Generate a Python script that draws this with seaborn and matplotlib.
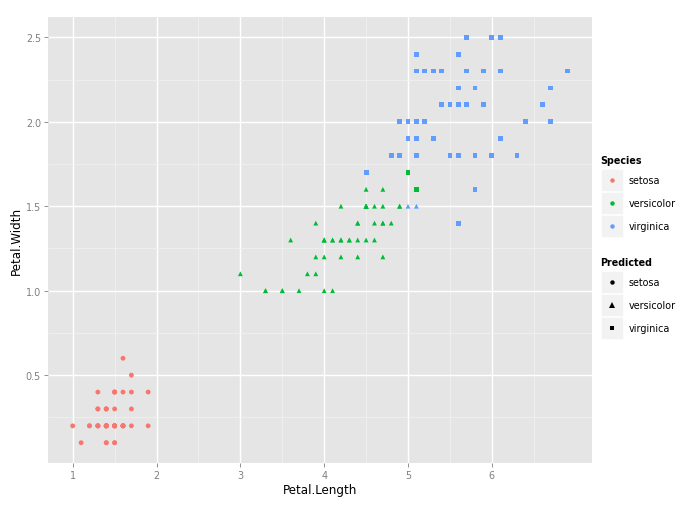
import numpy as np
import pandas as pd
import matplotlib
matplotlib.use("Agg")
import matplotlib.pyplot as plt
from matplotlib.lines import Line2D
from matplotlib.patches import Rectangle
import seaborn as sns

petal_length = [
    1.4, 1.4, 1.3, 1.5, 1.4, 1.7, 1.4, 1.5, 1.4, 1.5, 1.5, 1.6, 1.4, 1.1, 1.2, 1.5, 1.3, 1.4, 1.7, 1.5,
    1.7, 1.5, 1.0, 1.7, 1.9, 1.6, 1.6, 1.5, 1.4, 1.6, 1.6, 1.5, 1.5, 1.4, 1.5, 1.2, 1.3, 1.4, 1.3, 1.5,
    1.3, 1.3, 1.3, 1.6, 1.9, 1.4, 1.6, 1.4, 1.5, 1.4,
    4.7, 4.5, 4.9, 4.0, 4.6, 4.5, 4.7, 3.3, 4.6, 3.9, 3.5, 4.2, 4.0, 4.7, 3.6, 4.4, 4.5, 4.1, 4.5, 3.9,
    4.8, 4.0, 4.9, 4.7, 4.3, 4.4, 4.8, 5.0, 4.5, 3.5, 3.8, 3.7, 3.9, 5.1, 4.5, 4.5, 4.7, 4.4, 4.1, 4.0,
    4.4, 4.6, 4.0, 3.3, 4.2, 4.2, 4.2, 4.3, 3.0, 4.1,
    6.0, 5.1, 5.9, 5.6, 5.8, 6.6, 4.5, 6.3, 5.8, 6.1, 5.1, 5.3, 5.5, 5.0, 5.1, 5.3, 5.5, 6.7, 6.9, 5.0,
    5.7, 4.9, 6.7, 4.9, 5.7, 6.0, 4.8, 4.9, 5.6, 5.8, 6.1, 6.4, 5.6, 5.1, 5.6, 6.1, 5.6, 5.5, 4.8, 5.4,
    5.6, 5.1, 5.1, 5.9, 5.7, 5.2, 5.0, 5.2, 5.4, 5.1,
]
petal_width = [
    0.2, 0.2, 0.2, 0.2, 0.2, 0.4, 0.3, 0.2, 0.2, 0.1, 0.2, 0.2, 0.1, 0.1, 0.2, 0.4, 0.4, 0.3, 0.3, 0.3,
    0.2, 0.4, 0.2, 0.5, 0.2, 0.2, 0.4, 0.2, 0.2, 0.2, 0.2, 0.4, 0.1, 0.2, 0.2, 0.2, 0.2, 0.1, 0.2, 0.2,
    0.3, 0.3, 0.2, 0.6, 0.4, 0.3, 0.2, 0.2, 0.2, 0.2,
    1.4, 1.5, 1.5, 1.3, 1.5, 1.3, 1.6, 1.0, 1.3, 1.4, 1.0, 1.5, 1.0, 1.4, 1.3, 1.4, 1.5, 1.0, 1.5, 1.1,
    1.8, 1.3, 1.5, 1.2, 1.3, 1.4, 1.4, 1.7, 1.5, 1.0, 1.1, 1.0, 1.2, 1.6, 1.5, 1.6, 1.5, 1.3, 1.3, 1.3,
    1.2, 1.4, 1.2, 1.0, 1.3, 1.2, 1.3, 1.3, 1.1, 1.3,
    2.5, 1.9, 2.1, 1.8, 2.2, 2.1, 1.7, 1.8, 1.8, 2.5, 2.0, 1.9, 2.1, 2.0, 2.4, 2.3, 1.8, 2.2, 2.3, 1.5,
    2.3, 2.0, 2.0, 1.8, 2.1, 1.8, 1.8, 1.8, 2.1, 1.6, 1.9, 2.0, 2.2, 1.5, 1.4, 2.3, 2.4, 1.8, 1.8, 2.1,
    2.4, 2.3, 1.9, 2.3, 2.5, 2.3, 1.9, 2.0, 2.3, 1.8,
]
species_names = ["setosa", "versicolor", "virginica"]
species = ["setosa"] * 50 + ["versicolor"] * 50 + ["virginica"] * 50
predicted = list(species)
# misclassified observations (1-based rows 78, 84 -> virginica; 120, 134 -> versicolor)
misclassified = {78: "virginica", 84: "virginica", 120: "versicolor", 134: "versicolor"}
for row, lab in misclassified.items():
    predicted[row - 1] = lab

x_ticks = [1, 2, 3, 4, 5, 6]
y_ticks = [0.5, 1.0, 1.5, 2.0, 2.5]
y_tick_labels = ["0.5", "1.0", "1.5", "2.0", "2.5"]

colors = {"setosa": "#F8766D", "versicolor": "#00BA38", "virginica": "#619CFF"}
shapes = {"setosa": "o", "versicolor": "^", "virginica": "s"}

df = pd.DataFrame({"Petal.Length": petal_length, "Petal.Width": petal_width,
                   "Species": species, "Predicted": predicted})

W, H = 700, 506
fig = plt.figure(figsize=(W / 100, H / 100), dpi=100)
px = lambda x: x / W
py = lambda y: 1 - y / H
ax = fig.add_axes([px(48), py(464), px(592) - px(48), py(18) - py(464)])
ax.set_facecolor("#E5E5E5")

sns.scatterplot(data=df, x="Petal.Length", y="Petal.Width", hue="Species", style="Predicted",
                palette=colors, markers=shapes, hue_order=species_names, style_order=species_names,
                s=12, linewidth=0, legend=False, ax=ax, zorder=3)

xmin, xmax = 1.0 - 0.295, 6.9 + 0.295
ymin, ymax = 0.1 - 0.12, 2.5 + 0.12
ax.set_xlim(xmin, xmax)
ax.set_ylim(ymin, ymax)
ax.set_xticks(x_ticks)
ax.set_xticklabels([str(t) for t in x_ticks])
ax.set_yticks(y_ticks)
ax.set_yticklabels(y_tick_labels)
ax.set_xticks([1.5, 2.5, 3.5, 4.5, 5.5, 6.5], minor=True)
ax.set_yticks([0.25, 0.75, 1.25, 1.75, 2.25], minor=True)
ax.grid(which="major", color="white", linewidth=1.0, zorder=0)
ax.grid(which="minor", color="#F2F2F2", linewidth=0.5, zorder=0)
ax.set_axisbelow(True)
for s in ax.spines.values():
    s.set_visible(False)
ax.tick_params(which="major", length=3, width=0.6, color="#7F7F7F", labelcolor="#7F7F7F",
               labelsize=6.9, pad=2)
ax.tick_params(which="minor", length=0)
ax.set_xlabel("Petal.Length", fontsize=8.6, color="black", labelpad=2)
ax.set_ylabel("Petal.Width", fontsize=8.6, color="black", labelpad=2)

# legends drawn manually
def legend_block(title, title_y, key_tops, labels, handles_fn):
    fig.text(px(600), py(title_y), title, fontsize=6.9, fontweight="bold", va="center", ha="left")
    for top, lab in zip(key_tops, labels):
        fig.add_artist(Rectangle((px(601), py(top + 22)), px(22), py(0) - py(22),
                                 transform=fig.transFigure, facecolor="#F2F2F2",
                                 edgecolor="white", linewidth=0.5))
        handles_fn(lab, top + 11)
        fig.text(px(629), py(top + 11), lab, fontsize=6.9, va="center", ha="left")

def species_key(lab, yc):
    fig.add_artist(Line2D([px(612)], [py(yc)], marker="o", markersize=3.2, linestyle="none",
                          markerfacecolor=colors[lab], markeredgewidth=0,
                          transform=fig.transFigure))

def pred_key(lab, yc):
    ms = {"o": 3.2, "^": 3.8, "s": 3.0}[shapes[lab]]
    fig.add_artist(Line2D([px(612)], [py(yc)], marker=shapes[lab], markersize=ms, linestyle="none",
                          markerfacecolor="black", markeredgewidth=0,
                          transform=fig.transFigure))

legend_block("Species", 161, [170, 193, 216], species_names, species_key)
legend_block("Predicted", 263, [272, 295, 318], species_names, pred_key)

fig.savefig("out.png", dpi=100)
